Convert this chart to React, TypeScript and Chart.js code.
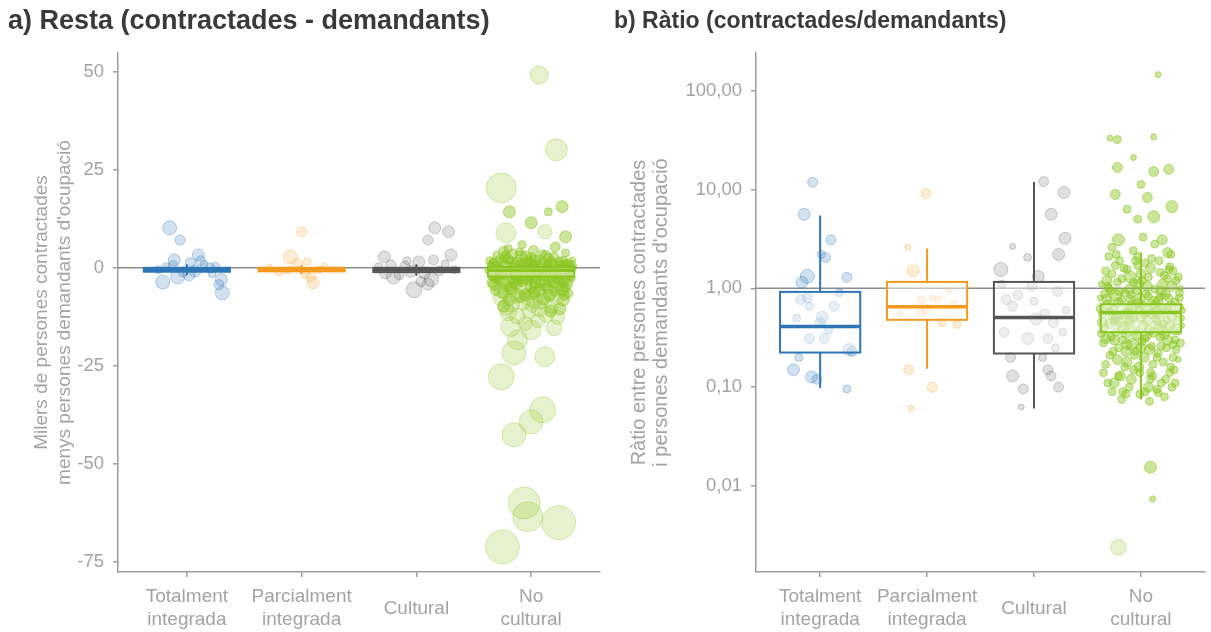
import { useEffect, useRef } from 'react';
import { Chart, registerables } from 'chart.js';
Chart.register(...registerables);

// ---------- Dades ----------
const categories = ['Totalment integrada', 'Parcialment integrada', 'Cultural', 'No cultural'];
const categoryLines = [['Totalment', 'integrada'], ['Parcialment', 'integrada'], ['Cultural'], ['No', 'cultural']];

const titolA = 'a) Resta (contractades - demandants)';
const titolB = 'b) Ràtio (contractades/demandants)';
const eixYA = ['Milers de persones contractades', "menys persones demandants d'ocupació"];
const eixYB = ['Ràtio entre persones contractades', "i persones demandants d'ocupació"];

const ticksResta = [-75, -50, -25, 0, 25, 50];
const ticksRatio = [0.01, 0.1, 1, 10, 100];
const referenciaResta = 0;
const referenciaRatio = 1;

// [jitter, valor, pes]
const restaTotalment: number[][] = [
  [-0.15, 10.2, 22], [-0.06, 7.1, 11], [-0.11, 2.0, 16], [0.10, 3.3, 16], [0.03, 1.3, 11], [-0.21, -3.6, 22],
  [-0.08, -2.3, 22], [0.02, -1.8, 16], [0.30, -3.0, 16], [0.31, -6.4, 22], [0.28, -4.3, 11], [0.20, 0.0, 11],
  [-0.25, -0.5, 7], [-0.12, 0.6, 11], [0.07, -0.8, 16], [0.15, 0.9, 7], [-0.03, -1.0, 11], [0.22, -1.5, 7],
  [-0.18, 0.3, 7], [0.12, 1.8, 11], [0.25, 0.4, 7],
];
const restaParcialment: number[][] = [
  [0.00, 9.2, 11], [-0.10, 2.8, 22], [-0.04, 0.8, 16], [0.10, -3.8, 16], [0.08, -2.3, 11], [-0.20, -1.0, 7],
  [0.15, -0.5, 7], [-0.28, 0.2, 4], [0.25, -0.3, 4], [0.03, -1.5, 11], [-0.12, -0.6, 7], [0.20, 0.5, 4], [0.05, 1.6, 7],
];
const restaCultural: number[][] = [
  [0.16, 10.2, 16], [0.28, 9.2, 16], [0.10, 7.1, 11], [-0.28, 2.8, 16], [0.30, 3.3, 16], [0.02, 1.5, 16],
  [-0.20, -2.3, 22], [-0.02, -5.6, 28], [0.13, -3.0, 22], [0.07, -1.3, 16], [-0.27, -1.3, 16], [-0.10, 0.5, 11],
  [0.20, -0.8, 11], [-0.05, -0.9, 16], [0.25, 1.0, 7], [-0.15, -1.8, 11], [0.04, -3.5, 11], [0.33, -0.5, 7],
  [-0.33, 0.3, 7], [0.15, 2.0, 11], [-0.08, 1.8, 7], [0.10, -4.2, 16], [-0.22, 0.8, 11],
];
const restaNoCultural: number[][] = [
  [0.07, 49.2, 36], [0.22, 30.1, 54], [-0.26, 20.4, 100], [-0.19, 14.3, 16], [0.00, 11.5, 16], [0.15, 14.3, 7],
  [0.27, 15.6, 16], [-0.22, 8.9, 44], [0.12, 9.2, 22], [0.30, 7.9, 16],
  [-0.26, -27.8, 75], [0.12, -22.7, 44], [0.10, -36.2, 75], [0.00, -39.3, 64], [-0.15, -42.6, 64], [-0.06, -60.0, 114],
  [-0.03, -63.5, 100], [0.24, -65.0, 128], [-0.25, -71.2, 128], [-0.15, -21.7, 64], [0.00, -15.8, 44], [-0.18, -15.0, 44],
  [0.20, -15.3, 28], [-0.12, -18.4, 44], [-0.20, -11.5, 28],
  [-0.35, 0.5, 7], [-0.31, -1.2, 11], [-0.28, 2.1, 7], [-0.25, -3.4, 16], [-0.22, 0.8, 11], [-0.19, -0.4, 7],
  [-0.16, 3.5, 11], [-0.13, -2.2, 16], [-0.10, 1.1, 7], [-0.07, -5.1, 22], [-0.04, 0.2, 11], [-0.01, -1.7, 7],
  [0.02, 4.4, 11], [0.05, -0.9, 16], [0.08, -3.8, 11], [0.11, 1.6, 7], [0.14, -0.2, 11], [0.17, -6.3, 22],
  [0.20, 2.7, 11], [0.23, -1.4, 7], [0.26, 0.6, 11], [0.29, -2.9, 16], [0.32, 1.3, 7], [0.35, -0.7, 7], [0.37, 0.1, 4],
  [-0.36, -0.3, 4], [-0.33, 1.4, 7], [-0.30, -2.6, 11], [-0.27, -0.8, 16], [-0.24, 4.2, 11], [-0.21, -4.7, 16],
  [-0.18, 1.9, 7], [-0.15, -1.1, 11], [-0.12, -7.2, 22], [-0.09, 2.8, 16], [-0.06, -0.5, 7], [-0.03, -3.1, 11],
  [0.00, 0.9, 16], [0.03, -8.4, 28], [0.06, 2.3, 7], [0.09, -1.9, 11], [0.12, -4.4, 16], [0.15, 0.4, 7],
  [0.18, -2.4, 11], [0.21, 5.3, 11], [0.24, -0.1, 7], [0.27, -5.6, 16], [0.30, 0.3, 11], [0.33, -1.6, 7], [0.36, 2.0, 4],
  [-0.34, -1.9, 11], [-0.29, 0.0, 7], [-0.26, -5.9, 22], [-0.23, 2.6, 11], [-0.20, -0.9, 7], [-0.17, -9.3, 28],
  [-0.14, 0.7, 11], [-0.11, -2.8, 16], [-0.08, 5.9, 7], [-0.05, -6.8, 16], [-0.02, -0.3, 11], [0.01, -2.5, 16],
  [0.04, 1.8, 11], [0.07, -10.4, 28], [0.10, -0.6, 7], [0.13, 3.1, 11], [0.16, -3.3, 16], [0.19, -0.8, 7],
  [0.22, -7.7, 22], [0.25, 1.5, 11], [0.28, -4.0, 11], [0.31, -0.4, 7], [0.34, -2.2, 7],
  [-0.32, -4.3, 16], [-0.27, -7.9, 22], [-0.22, -10.1, 28], [-0.17, -5.5, 16], [-0.12, -12.3, 28], [-0.07, -9.0, 22],
  [-0.02, -11.2, 22], [0.03, -6.1, 16], [0.08, -8.8, 22], [0.13, -11.9, 28], [0.18, -9.8, 22], [0.23, -12.6, 22],
  [0.28, -8.2, 16], [0.32, -6.5, 11],
  [-0.30, 3.2, 7], [-0.20, 4.9, 7], [-0.10, -1.4, 11], [0.00, -4.9, 16], [0.10, 0.0, 11], [0.20, -2.0, 7],
  [0.30, 3.8, 7], [-0.25, -2.0, 7], [-0.15, -3.9, 11], [-0.05, 1.5, 11], [0.05, -2.7, 11], [0.15, 1.0, 7],
  [0.25, -3.2, 11], [0.35, -1.0, 4],
  [-0.37, -0.6, 7], [-0.33, 0.9, 11], [-0.29, -3.0, 11], [-0.25, 1.6, 7], [-0.21, -1.5, 16], [-0.17, 0.3, 11],
  [-0.13, -4.1, 16], [-0.09, -0.2, 11], [-0.05, 3.0, 11], [-0.01, -2.1, 16], [0.03, 0.5, 11], [0.07, -5.5, 16],
  [0.11, -1.1, 11], [0.15, 2.4, 11], [0.19, -3.6, 16], [0.23, 0.2, 11], [0.27, -1.8, 11], [0.31, 1.0, 7], [0.35, -2.6, 7],
  [-0.36, 1.8, 7], [-0.32, -2.3, 11], [-0.28, -0.5, 11], [-0.24, -6.4, 16], [-0.20, 2.2, 11], [-0.16, -2.8, 11],
  [-0.12, 1.2, 16], [-0.08, -3.5, 11], [-0.04, -7.6, 22], [0.00, 2.6, 11], [0.04, -3.9, 11], [0.08, 0.7, 16],
  [0.12, -2.0, 11], [0.16, -7.0, 16], [0.20, 0.9, 11], [0.24, -4.8, 11], [0.28, 1.9, 7], [0.32, -3.9, 11], [0.36, 0.6, 7],
  [-0.34, -3.7, 11], [-0.30, 0.4, 11], [-0.26, -1.3, 16], [-0.22, 3.4, 7], [-0.18, -5.2, 16], [-0.14, -1.9, 11],
  [-0.10, 4.0, 7], [-0.06, -2.6, 16], [-0.02, 1.6, 11], [0.02, -6.6, 16], [0.06, -1.2, 11], [0.10, 3.6, 7],
  [0.14, -5.0, 16], [0.18, 1.4, 11], [0.22, -2.7, 11], [0.26, -0.7, 11], [0.30, -5.0, 11], [0.34, 0.9, 7],
  [-0.31, -5.8, 11], [-0.19, -8.1, 16], [-0.09, -7.3, 16], [0.01, -9.6, 22], [0.11, -8.0, 16], [0.21, -6.0, 11],
  [0.29, -7.0, 11], [-0.24, -9.8, 16], [0.06, -13.5, 22], [0.17, -11.0, 16], [-0.05, -14.2, 22], [0.25, -10.5, 16],
];

const ratioTotalment: number[][] = [
  [-0.07, 11.8, 11], [-0.15, 5.6, 16], [0.10, 3.1, 11], [0.05, 2.05, 11], [0.01, 2.2, 7], [-0.12, 1.32, 22],
  [-0.17, 1.15, 16], [0.25, 1.29, 11], [-0.18, 0.77, 11], [-0.10, 0.66, 7], [0.13, 0.66, 11], [0.02, 0.51, 16],
  [0.00, 0.45, 11], [-0.10, 0.31, 11], [0.04, 0.31, 11], [0.27, 0.24, 16], [0.30, 0.23, 11], [-0.25, 0.15, 16],
  [-0.08, 0.127, 16], [0.25, 0.096, 7], [-0.20, 0.2, 7], [-0.12, 0.8, 11], [0.18, 0.9, 7], [-0.22, 0.5, 7],
  [0.08, 0.38, 7], [-0.03, 0.12, 11],
];
const ratioParcialment: number[][] = [
  [-0.01, 9.1, 11], [-0.18, 2.6, 4], [-0.13, 1.5, 16], [-0.05, 0.77, 7], [0.10, 0.78, 4], [0.05, 0.8, 4],
  [-0.06, 0.57, 7], [0.14, 0.45, 7], [0.28, 0.43, 7], [-0.17, 0.15, 11], [0.05, 0.10, 11], [-0.15, 0.061, 4],
  [0.00, 0.62, 11], [0.20, 0.95, 4], [-0.25, 0.55, 4], [0.25, 0.7, 4],
];
const ratioCultural: number[][] = [
  [0.09, 12.0, 11], [0.28, 9.3, 16], [0.16, 5.6, 16], [0.29, 3.2, 16], [0.23, 2.2, 16], [-0.20, 2.65, 4],
  [-0.06, 2.05, 7], [-0.31, 1.55, 22], [0.04, 1.32, 16], [-0.26, 0.77, 11], [-0.20, 0.66, 11], [0.00, 0.74, 7],
  [0.22, 0.93, 11], [0.02, 0.49, 16], [-0.28, 0.36, 11], [-0.06, 0.31, 16], [0.13, 0.31, 11], [0.27, 0.36, 7],
  [-0.20, 0.13, 16], [-0.10, 0.096, 11], [0.16, 0.13, 11], [0.23, 0.10, 11], [-0.12, 0.063, 4], [0.13, 0.15, 11],
  [-0.22, 0.2, 11], [0.10, 0.55, 11], [-0.15, 0.85, 11], [0.30, 0.6, 7], [-0.02, 1.05, 11], [0.18, 0.45, 11],
  [-0.30, 1.1, 7], [0.08, 0.2, 7], [0.20, 0.25, 7],
];
const ratioNoCultural: number[][] = [
  [-0.22, 32, 7], [-0.29, 33, 4], [-0.07, 21, 4], [0.12, 34, 4], [-0.22, 16.7, 11], [0.12, 15.2, 11],
  [0.26, 16, 11], [0.00, 11.2, 7], [-0.24, 8.9, 11], [0.06, 8.3, 11], [0.29, 6.7, 16], [-0.13, 6.3, 7],
  [0.12, 5.3, 16], [-0.03, 5.0, 7], [-0.21, 3.1, 16], [0.20, 3.1, 11], [0.02, 3.3, 7], [0.25, 2.3, 11],
  [0.16, 145, 4], [0.09, 0.0155, 16], [0.11, 0.0074, 4], [-0.21, 0.0024, 28],
  [-0.36, 0.55, 7], [-0.32, 1.2, 11], [-0.28, 0.32, 7], [-0.24, 0.85, 16], [-0.20, 0.45, 11], [-0.16, 1.6, 7],
  [-0.12, 0.62, 11], [-0.08, 0.27, 16], [-0.04, 0.95, 7], [0.00, 0.51, 11], [0.04, 1.8, 7], [0.08, 0.38, 11],
  [0.12, 0.72, 16], [0.16, 0.22, 7], [0.20, 1.1, 11], [0.24, 0.48, 7], [0.28, 0.66, 11], [0.32, 0.3, 7], [0.36, 0.9, 7],
  [-0.38, 0.8, 4], [-0.34, 0.4, 7], [-0.30, 2.1, 7], [-0.26, 0.6, 11], [-0.22, 0.19, 11], [-0.18, 0.75, 7],
  [-0.14, 0.35, 11], [-0.10, 1.3, 16], [-0.06, 0.5, 7], [-0.02, 0.16, 11], [0.02, 0.68, 7], [0.06, 1.05, 11],
  [0.10, 0.26, 7], [0.14, 0.58, 11], [0.18, 1.45, 7], [0.22, 0.34, 11], [0.26, 0.8, 7], [0.30, 0.2, 7],
  [0.34, 0.56, 7], [0.38, 0.42, 4],
  [-0.35, 0.28, 7], [-0.31, 0.68, 11], [-0.27, 1.4, 7], [-0.23, 0.36, 7], [-0.19, 0.13, 11], [-0.15, 0.9, 7],
  [-0.11, 0.44, 11], [-0.07, 2.4, 7], [-0.03, 0.7, 11], [0.01, 0.29, 7], [0.05, 0.6, 16], [0.09, 0.14, 7],
  [0.13, 0.98, 7], [0.17, 0.4, 11], [0.21, 0.18, 7], [0.25, 1.25, 7], [0.29, 0.52, 11], [0.33, 0.24, 7], [0.37, 0.65, 4],
  [-0.33, 0.17, 7], [-0.25, 0.11, 11], [-0.17, 0.09, 7], [-0.09, 0.12, 11], [-0.01, 0.085, 7], [0.07, 0.1, 11],
  [0.15, 0.095, 7], [0.23, 0.12, 7], [0.31, 0.15, 7], [-0.29, 0.21, 7], [-0.21, 0.25, 7], [-0.13, 0.18, 11],
  [-0.05, 0.23, 7], [0.03, 0.2, 11], [0.11, 0.17, 7], [0.19, 0.26, 7], [0.27, 0.14, 7], [0.35, 0.19, 4],
  [-0.30, 1.0, 7], [-0.20, 1.9, 7], [-0.10, 0.78, 7], [0.00, 1.4, 11], [0.10, 2.0, 7], [0.20, 0.62, 7],
  [0.30, 1.5, 7], [-0.25, 0.47, 7], [-0.15, 0.55, 11], [-0.05, 0.38, 7], [0.05, 0.33, 11], [0.15, 0.46, 7],
  [0.25, 0.3, 11], [0.35, 0.36, 4],
  [-0.37, 1.1, 4], [-0.27, 2.6, 7], [-0.07, 1.15, 7], [0.13, 2.8, 7], [0.28, 2.2, 7], [-0.18, 0.075, 7],
  [0.08, 0.072, 7], [0.22, 0.08, 7], [-0.02, 0.6, 7], [0.18, 0.82, 7],
  [-0.38, 0.62, 7], [-0.33, 0.31, 11], [-0.28, 0.95, 7], [-0.23, 0.5, 11], [-0.18, 1.25, 7], [-0.13, 0.27, 11],
  [-0.08, 0.66, 16], [-0.03, 1.7, 7], [0.02, 0.42, 11], [0.07, 0.83, 7], [0.12, 0.36, 11], [0.17, 0.57, 16],
  [0.22, 1.35, 7], [0.27, 0.41, 11], [0.32, 0.73, 7], [0.37, 0.28, 7],
  [-0.36, 0.45, 11], [-0.31, 1.05, 7], [-0.26, 0.23, 7], [-0.21, 0.71, 11], [-0.16, 0.4, 16], [-0.11, 0.98, 11],
  [-0.06, 0.21, 7], [-0.01, 0.79, 11], [0.04, 0.31, 7], [0.09, 1.6, 11], [0.14, 0.49, 7], [0.19, 0.93, 11],
  [0.24, 0.25, 7], [0.29, 1.05, 11], [0.34, 0.47, 7], [0.39, 0.6, 4],
  [-0.37, 0.35, 7], [-0.32, 0.78, 11], [-0.27, 0.52, 7], [-0.22, 1.15, 7], [-0.17, 0.3, 7], [-0.12, 0.56, 11],
  [-0.07, 0.15, 7], [-0.02, 1.1, 11], [0.03, 0.55, 7], [0.08, 0.24, 11], [0.13, 0.69, 7], [0.18, 0.32, 7],
  [0.23, 0.87, 11], [0.28, 0.16, 7], [0.33, 1.2, 7], [0.38, 0.5, 4],
  [-0.34, 0.88, 7], [-0.29, 0.44, 11], [-0.24, 1.7, 7], [-0.19, 0.54, 7], [-0.14, 0.23, 11], [-0.09, 0.86, 7],
  [-0.04, 0.34, 11], [0.01, 1.2, 7], [0.06, 0.47, 11], [0.11, 0.13, 7], [0.16, 0.74, 11], [0.21, 0.44, 7],
  [0.26, 1.55, 7], [0.31, 0.38, 11], [0.36, 0.8, 7],
  [-0.35, 0.14, 7], [-0.30, 0.58, 7], [-0.25, 0.3, 11], [-0.20, 0.92, 7], [-0.15, 0.16, 7], [-0.10, 0.48, 11],
  [-0.05, 1.9, 7], [0.00, 0.25, 11], [0.05, 0.88, 7], [0.10, 0.56, 11], [0.15, 0.2, 7], [0.20, 0.38, 11],
  [0.25, 0.64, 7], [0.30, 0.27, 7], [0.35, 1.3, 7],
  [-0.33, 1.5, 7], [-0.23, 2.2, 7], [-0.13, 1.55, 7], [-0.03, 2.1, 7], [0.07, 1.3, 7], [0.17, 1.9, 7],
  [0.27, 1.65, 7], [0.37, 1.0, 4],
  [-0.31, 0.11, 7], [-0.21, 0.13, 7], [-0.11, 0.1, 7], [-0.01, 0.14, 7], [0.09, 0.12, 7], [0.19, 0.11, 7], [0.29, 0.1, 7],
  [-0.27, 0.09, 7], [-0.14, 0.085, 7], [0.04, 0.09, 7], [0.16, 0.088, 7], [0.32, 0.11, 7],
];

// Estadístics de les caixes: [mínim bigoti, Q1, mediana, Q3, màxim bigoti]
const caixesResta: number[][] = [
  [-1.9, -1.0, -0.5, 0.0, 0.9],
  [-1.6, -0.9, -0.4, 0.0, 0.7],
  [-2.0, -1.1, -0.5, 0.0, 0.9],
  [-5.5, -2.2, -0.6, 0.2, 3.2],
];
const caixesRatio: number[][] = [
  [0.098, 0.224, 0.41, 0.92, 5.46],
  [0.154, 0.48, 0.65, 1.16, 2.52],
  [0.061, 0.219, 0.506, 1.16, 11.9],
  [0.075, 0.36, 0.57, 0.69, 2.3],
];

// ---------- Estils ----------
const lineColors = ['#2E75B6', '#F39A1E', '#555555', '#8BC620'];
const rgbColors = ['46,117,182', '243,154,30', '85,85,85', '139,198,32'];
const fillAlpha = [0.22, 0.18, 0.18, 0.22];
const denseAlpha = [0.22, 0.18, 0.18, 0.45];
const FONT = "'Liberation Sans', Arial, sans-serif";
const GREY_TXT = '#a3a3a3';
const AXIS_COL = '#9e9e9e';

const radiusFor = (w: number) => Math.sqrt(w) * 1.5;

const caixesPlugin = {
  id: 'caixes',
  beforeDatasetsDraw(chart: any, _a: any, opts: any) {
    const { ctx, chartArea, scales } = chart;
    const y = scales.y.getPixelForValue(opts.ref);
    ctx.save();
    ctx.strokeStyle = '#8c8c8c';
    ctx.lineWidth = 1.5;
    ctx.beginPath();
    ctx.moveTo(chartArea.left, y);
    ctx.lineTo(chartArea.right, y);
    ctx.stroke();
    ctx.restore();
  },
  afterDatasetsDraw(chart: any, _a: any, opts: any) {
    const { ctx, scales } = chart;
    const xs = scales.x, ys = scales.y;
    ctx.save();
    opts.stats.forEach((s: number[], i: number) => {
      const cx = xs.getPixelForValue(i + 1);
      const x0 = xs.getPixelForValue(i + 1 - 0.375);
      const x1 = xs.getPixelForValue(i + 1 + 0.375);
      const [lo, q1, med, q3, hi] = s.map((v) => ys.getPixelForValue(v));
      ctx.strokeStyle = lineColors[i];
      ctx.lineWidth = 2;
      ctx.beginPath();
      ctx.moveTo(cx, lo); ctx.lineTo(cx, q1);
      ctx.moveTo(cx, q3); ctx.lineTo(cx, hi);
      ctx.stroke();
      ctx.fillStyle = 'rgba(255,255,255,0.45)';
      ctx.fillRect(x0, q3, x1 - x0, q1 - q3);
      ctx.strokeRect(x0, q3, x1 - x0, q1 - q3);
      ctx.lineWidth = 3.5;
      ctx.beginPath();
      ctx.moveTo(x0, med); ctx.lineTo(x1, med);
      ctx.stroke();
    });
    ctx.restore();
  },
};

function buildConfig(kind: 'resta' | 'ratio') {
  const series = kind === 'resta'
    ? [restaTotalment, restaParcialment, restaCultural, restaNoCultural]
    : [ratioTotalment, ratioParcialment, ratioCultural, ratioNoCultural];
  const isA = kind === 'resta';
  const alphaFor = (i: number, w: number) => (w >= 20 ? fillAlpha[i] : denseAlpha[i]);
  const datasets = series.map((arr, i) => ({
    label: categories[i],
    data: arr.map(([j, v, w]) => ({ x: i + 1 + j, y: v, w })),
    backgroundColor: (c: any) => `rgba(${rgbColors[i]},${alphaFor(i, c.raw ? c.raw.w : 4)})`,
    borderColor: (c: any) => `rgba(${rgbColors[i]},${alphaFor(i, c.raw ? c.raw.w : 4) + 0.1})`,
    borderWidth: 1,
    pointRadius: (c: any) => radiusFor(c.raw ? c.raw.w : 4),
    pointHoverRadius: (c: any) => radiusFor(c.raw ? c.raw.w : 4),
  }));
  const tickFont = { family: FONT, size: 18.5 };
  const axisCommon = {
    grid: { drawOnChartArea: false, drawTicks: true, tickLength: 5, color: AXIS_COL, lineWidth: 1.5 },
    border: { display: true, color: AXIS_COL, width: 1.5 },
  };
  return {
    type: 'scatter' as const,
    data: { datasets },
    options: {
      responsive: false,
      animation: false,
      events: [],
      layout: { padding: { left: isA ? 8 : 9, right: isA ? 31 : 4, top: 0, bottom: 0 } },
      plugins: {
        legend: { display: false },
        tooltip: { enabled: false },
        title: {
          display: true,
          text: isA ? titolA : titolB,
          align: 'start' as const,
          color: '#3a3a3a',
          font: { family: FONT, size: isA ? 27 : 23, weight: 'bold' as const, lineHeight: 1.2 },
          padding: isA ? { top: 5.8, bottom: 14.8 } : { top: 8, bottom: 17.4 },
        },
        caixes: { ref: isA ? referenciaResta : referenciaRatio, stats: isA ? caixesResta : caixesRatio },
      },
      scales: {
        x: {
          type: 'linear' as const,
          min: 0.4,
          max: 4.6,
          afterBuildTicks: (s: any) => { s.ticks = [1, 2, 3, 4].map((v) => ({ value: v })); },
          afterFit: (s: any) => { s.height = 60; s.paddingLeft = 0; s.paddingRight = 0; },
          ticks: {
            autoSkip: false,
            maxRotation: 0,
            crossAlign: 'center' as const,
            padding: 20,
            color: GREY_TXT,
            font: { family: FONT, size: 19, lineHeight: 1.21 },
            callback: (v: any) => categoryLines[Math.round(v) - 1],
          },
          ...axisCommon,
        },
        y: isA
          ? {
              type: 'linear' as const,
              min: -77.6,
              max: 54.8,
              afterBuildTicks: (s: any) => { s.ticks = ticksResta.map((v) => ({ value: v })); },
              afterFit: (s: any) => { s.width = 110; },
              ticks: { color: GREY_TXT, font: tickFont, padding: 9, callback: (v: any) => String(v) },
              ...axisCommon,
              title: {
                display: true,
                text: eixYA,
                color: GREY_TXT,
                font: { family: FONT, size: 19, lineHeight: 1.2 },
                padding: { top: 22.5, bottom: 0 },
              },
            }
          : {
              type: 'logarithmic' as const,
              min: 0.00135,
              max: 240,
              afterBuildTicks: (s: any) => { s.ticks = ticksRatio.map((v) => ({ value: v })); },
              afterFit: (s: any) => { s.width = 142; },
              ticks: {
                color: GREY_TXT,
                font: tickFont,
                padding: 9,
                callback: (v: any) => Number(v).toFixed(2).replace('.', ','),
              },
              ...axisCommon,
              title: {
                display: true,
                text: eixYB,
                color: GREY_TXT,
                font: { family: FONT, size: 20, lineHeight: 1.1 },
                padding: { top: 14, bottom: 0 },
              },
            },
      },
    },
    plugins: [caixesPlugin],
  };
}

function Panel({ kind, left, width }: { kind: 'resta' | 'ratio'; left: number; width: number }) {
  const ref = useRef<HTMLCanvasElement | null>(null);
  useEffect(() => {
    if (!ref.current) return;
    const chart = new Chart(ref.current, buildConfig(kind) as any);
    return () => chart.destroy();
  }, [kind]);
  return (
    <canvas
      ref={ref}
      width={width}
      height={632}
      style={{ position: 'absolute', left, top: 0, width, height: 632, display: 'block' }}
    />
  );
}

export default function App() {
  return (
    <div style={{ position: 'fixed', left: 0, top: 0, width: 1211, height: 632, background: '#ffffff', overflow: 'hidden' }}>
      <Panel kind="resta" left={0} width={631} />
      <Panel kind="ratio" left={605} width={609} />
    </div>
  );
}
